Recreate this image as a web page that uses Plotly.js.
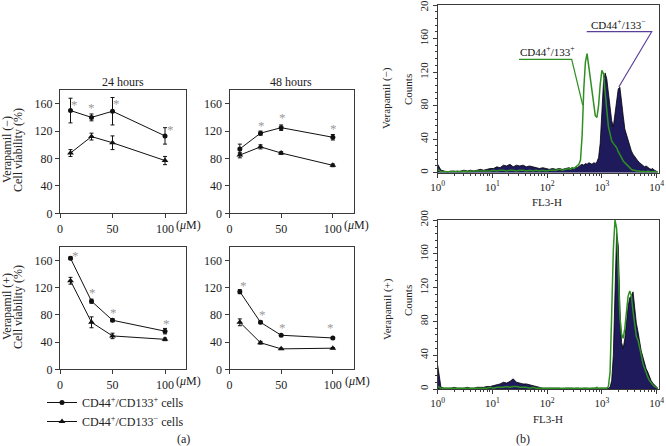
<!DOCTYPE html>
<html><head><meta charset="utf-8">
<script src="https://cdn.plot.ly/plotly-3.0.1.min.js"></script>
<style>html,body{margin:0;padding:0;background:#fff}#chart{width:666px;height:446px}</style>
</head><body><div id="chart"></div>
<script>
// ---------- (a) cell viability data ----------
const concentration = [10, 30, 50, 100];
const seriesNames = ['CD44<sup>+</sup>/CD133<sup>+</sup> cells', 'CD44<sup>+</sup>/CD133<sup>\u2212</sup> cells'];
const panelTitles = ['24 hours', '48 hours'];
const xTickVals = [0, 50, 100];
const yTickVals = [0, 40, 80, 120, 160];

const minus24Pos = [150, 140, 149, 113];
const minus24PosErr = [18, 5, 20, 12];
const minus24Neg = [88, 112, 103, 77];
const minus24NegErr = [5, 5, 10, 6];
const minus48Pos = [94, 117, 125, 111];
const minus48PosErr = [7, 3, 4, 4];
const minus48Neg = [85, 97, 88, 70];
const minus48NegErr = [4, 3, 2, 2];
const plus24Pos = [163, 100, 72, 56];
const plus24PosErr = [2, 3, 2, 4];
const plus24Neg = [130, 69, 49, 44];
const plus24NegErr = [5, 8, 4, 2];
const plus48Pos = [114, 69, 50, 46];
const plus48PosErr = [3, 2, 1, 1];
const plus48Neg = [69, 39, 30, 31];
const plus48NegErr = [5, 2, 1, 1];

const sig24Minus = ['*', '*', '*', '*'];
const sig48Minus = ['', '*', '*', '*'];
const sig24Plus = ['*', '*', '*', '*'];
const sig48Plus = ['*', '*', '*', '*'];

// ---------- (b) flow cytometry histograms (x in decades of FL3-H) ----------
const histDecade = [0,0.06,0.12,0.18,0.24,0.30,0.36,0.42,0.48,0.54,0.60,0.66,0.72,0.78,0.84,0.90,0.96,1.02,1.08,1.14,1.20,1.26,1.32,1.38,1.44,1.50,1.56,1.62,1.68,1.74,1.80,1.86,1.92,1.98,2.04,2.10,2.16,2.22,2.28,2.34,2.40,
  2.43,2.46,2.49,2.52,2.55,2.58,2.61,2.64,2.67,2.70,2.73,2.76,2.79,2.82,2.85,2.88,2.91,2.94,2.97,3.00,3.03,3.06,3.09,3.12,3.15,3.18,3.21,3.24,3.27,3.30,3.33,3.36,3.39,3.42,3.45,3.48,3.51,3.54,3.57,3.60,3.63,3.66,3.69,3.72,3.75,3.78,3.81,3.84,3.87,3.90,3.93,3.96,3.99,4.02];
const topNeg = [10,3,2,1,2,2,1,2,3,2,3,2,3,4,3,4,5,5,7,6,9,8,10,7,9,8,9,7,8,7,6,5,6,5,4,5,4,5,4,5,6,
  5,6,5,7,6,8,9,10,9,11,10,12,11,10,12,11,13,18,35,75,108,119,112,95,80,62,55,70,88,100,102,88,68,52,45,38,31,26,22,19,16,14,12,10,9,7,8,6,5,4,5,3,2,1];
const topPos = [4,1,1,1,1,1,2,1,2,1,2,2,2,2,2,2,2,3,2,3,3,2,3,3,2,3,3,2,3,2,3,2,3,2,3,3,3,4,3,4,5,
  4,6,5,7,8,10,15,45,100,132,142,128,110,100,82,68,66,80,105,122,118,100,75,55,45,38,35,33,30,25,22,18,14,12,9,7,5,4,3,3,2,2,2,1,2,1,1,2,1,1,1,1,1,1];
const botNeg = [28,2,1,1,1,2,1,1,1,2,1,1,2,2,2,3,3,4,5,6,8,7,9,12,8,7,6,6,5,4,3,2,1,1,1,1,1,1,0,1,1,
  1,1,0,1,1,1,0,1,1,1,1,0,1,1,1,1,0,1,1,1,1,1,1,1,2,10,40,120,185,170,95,55,48,60,80,98,108,110,115,95,78,68,55,45,38,30,24,20,14,10,7,5,3,1];
const botPos = [3,1,1,1,1,1,1,1,1,1,1,1,1,1,1,1,2,1,2,2,2,3,2,3,3,2,2,2,1,2,1,1,1,1,1,1,1,1,1,1,1,
  1,1,1,1,1,1,1,1,1,1,1,1,1,1,1,1,2,1,1,1,1,1,1,3,20,90,165,200,190,140,85,65,60,72,92,110,116,110,92,75,62,58,50,40,30,24,18,14,10,7,5,3,2,1];
const histTickVals = [1, 10, 100, 1000, 10000];
const histTickText = ['10<sup>0</sup>','10<sup>1</sup>','10<sup>2</sup>','10<sup>3</sup>','10<sup>4</sup>'];
const histYTicks = [0, 40, 80, 120, 160, 200];

const fl3 = histDecade.map(d => Math.pow(10, d));

// ---------- helpers ----------
const W = 666, H = 446;
const px = v => v / W;
const py = v => 1 - v / H;
const SERIF = 'Liberation Serif, Times New Roman, serif';
const AX = '#3a3a3a';
const NAVY = '#1e1a5c';
const GREEN = '#2f8f22';
const PURPLE = '#5a3f9a';

function lineTrace(n, y, err, symbol, name, showlegend) {
  return {
    type: 'scatter', mode: 'lines+markers',
    x: concentration, y: y, xaxis: 'x' + n, yaxis: 'y' + n,
    name: name, showlegend: showlegend, legendrank: symbol === 'circle' ? 1 : 2,
    line: {color: '#111', width: 1},
    marker: {symbol: symbol, size: symbol === 'circle' ? 5 : 6, color: '#111'},
    error_y: {type: 'data', array: err, visible: true, color: '#111', thickness: 1, width: 2},
    cliponaxis: false, hoverinfo: 'skip'
  };
}

const data = [
  lineTrace(1, minus24Pos, minus24PosErr, 'circle', seriesNames[0], true),
  lineTrace(1, minus24Neg, minus24NegErr, 'triangle-up', seriesNames[1], true),
  lineTrace(2, minus48Pos, minus48PosErr, 'circle', seriesNames[0], false),
  lineTrace(2, minus48Neg, minus48NegErr, 'triangle-up', seriesNames[1], false),
  lineTrace(3, plus24Pos, plus24PosErr, 'circle', seriesNames[0], false),
  lineTrace(3, plus24Neg, plus24NegErr, 'triangle-up', seriesNames[1], false),
  lineTrace(4, plus48Pos, plus48PosErr, 'circle', seriesNames[0], false),
  lineTrace(4, plus48Neg, plus48NegErr, 'triangle-up', seriesNames[1], false),
  {type:'scatter', mode:'lines', x: fl3, y: topNeg, xaxis:'x5', yaxis:'y5', fill:'tozeroy',
   fillcolor: NAVY, line:{color:'#000', width:0.8}, showlegend:false, hoverinfo:'skip'},
  {type:'scatter', mode:'lines', x: fl3, y: topPos, xaxis:'x5', yaxis:'y5',
   line:{color: GREEN, width:1.5}, showlegend:false, hoverinfo:'skip'},
  {type:'scatter', mode:'lines', x: fl3, y: botNeg, xaxis:'x6', yaxis:'y6', fill:'tozeroy',
   fillcolor: NAVY, line:{color:'#000', width:0.8}, showlegend:false, hoverinfo:'skip'},
  {type:'scatter', mode:'lines', x: fl3, y: botPos, xaxis:'x6', yaxis:'y6',
   line:{color: GREEN, width:1.5}, showlegend:false, hoverinfo:'skip'}
];

const common = {
  showline: true, mirror: true, linecolor: AX, linewidth: 1,
  ticks: 'outside', ticklen: 4, tickcolor: AX, tickwidth: 1,
  showgrid: false, zeroline: false, fixedrange: true, ticklabeloverflow: 'allow',
  tickfont: {family: SERIF, size: 12, color: '#222'}
};
function lx(dom, anchor) { return Object.assign({}, common, {domain: dom, anchor: anchor, range: [0, 120], tickmode: 'array', tickvals: xTickVals}); }
function ly(dom, anchor) { return Object.assign({}, common, {domain: dom, anchor: anchor, range: [0, 180], tickmode: 'array', tickvals: yTickVals}); }
const minorX = [];
[1, 10, 100, 1000].forEach(b => { for (let k = 2; k <= 9; k++) minorX.push(b * k); });
function hx(dom, anchor) {
  return Object.assign({}, common, {domain: dom, anchor: anchor, type: 'log', range: [0, 4.05],
    tickmode: 'array', tickvals: histTickVals, ticktext: histTickText,
    tickfont: {family: SERIF, size: 11, color: '#222'},
    minor: {tickmode: 'array', tickvals: minorX, ticks: 'outside', ticklen: 2, tickcolor: AX}});
}
function hy(dom, anchor) {
  return Object.assign({}, common, {domain: dom, anchor: anchor, range: [0, 200],
    tickmode: 'array', tickvals: histYTicks, tickangle: -90,
    tickfont: {family: SERIF, size: 11, color: '#222'},
    minor: {dtick: 8, ticks: 'outside', ticklen: 2, tickcolor: AX}});
}

const xL = [px(60), px(186)], xR = [px(229.5), px(353.5)];
const yT = [py(213.3), py(90)], yB = [py(369.3), py(246.7)];
const xH = [px(437.7), px(659.3)];

function ann(text, x, y, opts) {
  return Object.assign({text: text, x: px(x), y: py(y), xref: 'paper', yref: 'paper', showarrow: false,
    xanchor: 'center', yanchor: 'middle', font: {family: SERIF, size: 12, color: '#222'}}, opts || {});
}
const annotations = [
  ann(panelTitles[0], 123, 82),
  ann(panelTitles[1], 291, 82),
  ann('Verapamil (\u2212)', 7, 150, {textangle: -90}),
  ann('Cell viability (%)', 18, 150, {textangle: -90}),
  ann('Verapamil (+)', 7, 307, {textangle: -90}),
  ann('Cell viability (%)', 18, 307, {textangle: -90}),
  ann('(<i>\u03bc</i>M)', 188, 225),
  ann('(<i>\u03bc</i>M)', 356, 225),
  ann('(<i>\u03bc</i>M)', 188, 381),
  ann('(<i>\u03bc</i>M)', 357, 381),
  ann('(a)', 183, 439),
  ann('(b)', 523, 439),
  ann('Verapamil (\u2212)', 387, 98, {textangle: -90, font: {family: SERIF, size: 11, color: '#222'}}),
  ann('Counts', 408, 90, {textangle: -90, font: {family: SERIF, size: 11, color: '#222'}}),
  ann('Verapamil (+)', 387, 309, {textangle: -90, font: {family: SERIF, size: 11, color: '#222'}}),
  ann('Counts', 408, 301, {textangle: -90, font: {family: SERIF, size: 11, color: '#222'}}),
  ann('FL3-H', 547, 202, {font: {family: SERIF, size: 11, color: '#222'}}),
  ann('FL3-H', 548, 419, {font: {family: SERIF, size: 11, color: '#222'}}),
  ann('CD44<sup>+</sup>/133<sup>+</sup>', 547, 51, {font: {family: SERIF, size: 11, color: '#111'}}),
  ann('CD44<sup>+</sup>/133<sup>\u2212</sup>', 618, 24, {font: {family: SERIF, size: 11, color: '#111'}})
];

// significance asterisks, anchored to the data points through the axes
const starShift = {
  1: [[4, 6], [0, 10], [4, 8], [5, 6]],
  2: [[0, 0], [1, 8], [1, 10], [1, 9]],
  3: [[5, 3], [1, 9], [1, 8], [1, 8]],
  4: [[4, 6], [2, 8], [1, 8], [-2, 10]]
};
[[1, minus24Pos, sig24Minus], [2, minus48Pos, sig48Minus], [3, plus24Pos, sig24Plus], [4, plus48Pos, sig48Plus]]
  .forEach(([n, vals, sig]) => {
    vals.forEach((v, i) => {
      if (!sig[i]) return;
      annotations.push({text: sig[i], x: concentration[i], y: v, xref: 'x' + n, yref: 'y' + n,
        showarrow: false, xanchor: 'center', yanchor: 'middle',
        xshift: starShift[n][i][0], yshift: starShift[n][i][1],
        font: {family: SERIF, size: 13, color: '#9a9a9a'}});
    });
  });

function path(pts) { return pts.map((p, i) => (i ? 'L' : 'M') + px(p[0]).toFixed(5) + ',' + py(p[1]).toFixed(5)).join(' '); }
const shapes = [
  {type: 'path', xref: 'paper', yref: 'paper', path: path([[519, 59.3], [571.7, 59.3], [582.7, 105]]), line: {color: GREEN, width: 1.2}},
  {type: 'path', xref: 'paper', yref: 'paper', path: path([[586.7, 31.7], [651.7, 31.7], [618.8, 87]]), line: {color: PURPLE, width: 1.2}}
];

const layout = {
  width: W, height: H, margin: {l: 0, r: 0, t: 0, b: 0},
  paper_bgcolor: '#fff', plot_bgcolor: 'rgba(0,0,0,0)',
  showlegend: true,
  legend: {x: px(42), y: py(388), xanchor: 'left', yanchor: 'top', bgcolor: 'rgba(0,0,0,0)',
    font: {family: SERIF, size: 12, color: '#222'}, tracegroupgap: 0, itemwidth: 30},
  xaxis: lx(xL, 'y'), yaxis: ly(yT, 'x'),
  xaxis2: lx(xR, 'y2'), yaxis2: ly(yT, 'x2'),
  xaxis3: lx(xL, 'y3'), yaxis3: ly(yB, 'x3'),
  xaxis4: lx(xR, 'y4'), yaxis4: ly(yB, 'x4'),
  xaxis5: hx(xH, 'y5'), yaxis5: hy([py(172.7), py(5)], 'x5'),
  xaxis6: hx(xH, 'y6'), yaxis6: hy([py(389), py(220)], 'x6'),
  annotations: annotations, shapes: shapes
};

Plotly.newPlot('chart', data, layout, {staticPlot: true, displayModeBar: false});
</script>
</body></html>
